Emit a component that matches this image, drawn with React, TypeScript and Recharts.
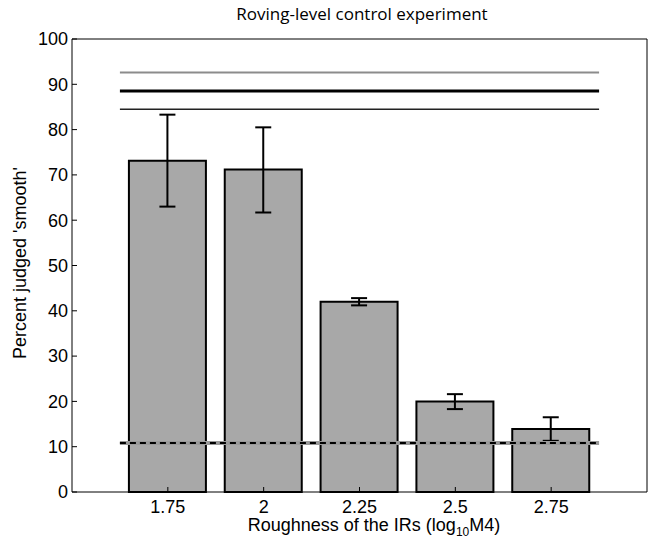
import React from "react";
import {
  ComposedChart,
  Bar,
  XAxis,
  YAxis,
  ErrorBar,
  ReferenceLine,
} from "recharts";

// roughness values on the x axis (log10 M4)
const roughness = [1.75, 2, 2.25, 2.5, 2.75];
// percent judged 'smooth'
const percentSmooth = [73.1, 71.2, 42.0, 20.0, 13.9];
const errLower = [63.0, 61.7, 41.2, 18.3, 11.3];
const errUpper = [83.3, 80.5, 42.8, 21.6, 16.5];

const yTicks = [0, 10, 20, 30, 40, 50, 60, 70, 80, 90, 100];
const xDomain = [1.5, 3];

// horizontal reference levels (upper bound, mean, lower bound) + chance level
const refUpper = 92.6;
const refMean = 88.5;
const refLower = 84.5;
const chanceLevel = 10.8;
const refSpan = [1.625, 2.875];

const data = roughness.map((x, i) => ({
  x,
  pct: percentSmooth[i],
  err: [percentSmooth[i] - errLower[i], errUpper[i] - percentSmooth[i]],
}));

const seg = (y: number) => [
  { x: refSpan[0], y },
  { x: refSpan[1], y },
];

const sans = "'Liberation Sans', Arial, sans-serif";
const axisFont = { fontFamily: sans, fontSize: 18, fill: "#000" };

export default function App() {
  return (
    <div style={{ position: "relative", width: 649, height: 540, background: "#fff" }}>
      <style>{"body{margin:0}"}</style>
      <div
        style={{
          position: "absolute",
          left: 0,
          width: 724,
          top: 4,
          textAlign: "center",
          fontFamily: "'Open Sans', sans-serif",
          fontSize: 17,
          lineHeight: "20px",
          color: "#000",
        }}
      >
        Roving-level control experiment
      </div>
      <div
        style={{
          position: "absolute",
          left: 20,
          top: 263,
          transform: "translate(-50%, -50%) rotate(-90deg)",
          whiteSpace: "nowrap",
          fontFamily: sans,
          fontSize: 18,
          lineHeight: "20px",
          color: "#000",
        }}
      >
        Percent judged 'smooth'
      </div>
      <div
        style={{
          position: "absolute",
          left: 0,
          width: 748,
          top: 515,
          textAlign: "center",
          fontFamily: sans,
          fontSize: 18,
          lineHeight: "20px",
          color: "#000",
          whiteSpace: "nowrap",
        }}
      >
        Roughness of the IRs (log<sub style={{ fontSize: 12 }}>10</sub>M4)
      </div>
      <ComposedChart
        width={649}
        height={540}
        data={data}
        margin={{ top: 38, right: 1, bottom: 18, left: 12 }}
      >
        <XAxis
          dataKey="x"
          type="number"
          domain={xDomain}
          ticks={roughness}
          interval={0}
          height={30}
          tickSize={-5}
          tickMargin={13}
          tick={axisFont}
          axisLine={{ stroke: "#000" }}
          tickLine={{ stroke: "#000" }}
        />
        <XAxis
          xAxisId="top"
          dataKey="x"
          orientation="top"
          type="number"
          domain={xDomain}
          ticks={roughness}
          interval={0}
          height={1}
          tickSize={-5}
          tick={false}
          axisLine={{ stroke: "#000" }}
          tickLine={{ stroke: "#000" }}
        />
        <YAxis
          domain={[0, 100]}
          ticks={yTicks}
          interval={0}
          width={60}
          tickSize={-5}
          tickMargin={9}
          tick={axisFont}
          axisLine={{ stroke: "#000" }}
          tickLine={{ stroke: "#000" }}
        />
        <YAxis
          yAxisId="right"
          orientation="right"
          domain={[0, 100]}
          ticks={yTicks}
          interval={0}
          width={1}
          tickSize={-5}
          tick={false}
          axisLine={{ stroke: "#000" }}
          tickLine={{ stroke: "#000" }}
        />
        <Bar
          dataKey="pct"
          fill="#a8a8a8"
          stroke="#000"
          strokeWidth={2}
          barSize={77}
          isAnimationActive={false}
        >
          <ErrorBar dataKey="err" width={8} stroke="#000" strokeWidth={2} direction="y" />
        </Bar>
        <Bar
          dataKey="pct"
          xAxisId="top"
          yAxisId="right"
          fill="none"
          stroke="none"
          barSize={77}
          isAnimationActive={false}
        />
        <ReferenceLine segment={seg(refUpper)} stroke="#8c8c8c" strokeWidth={2} />
        <ReferenceLine segment={seg(refMean)} stroke="#000" strokeWidth={3} />
        <ReferenceLine segment={seg(refLower)} stroke="#222" strokeWidth={1.5} />
        <ReferenceLine segment={seg(chanceLevel)} stroke="#9a9a9a" strokeWidth={4} />
        <ReferenceLine segment={seg(chanceLevel)} stroke="#000" strokeWidth={2} strokeDasharray="6 4" />
      </ComposedChart>
    </div>
  );
}
